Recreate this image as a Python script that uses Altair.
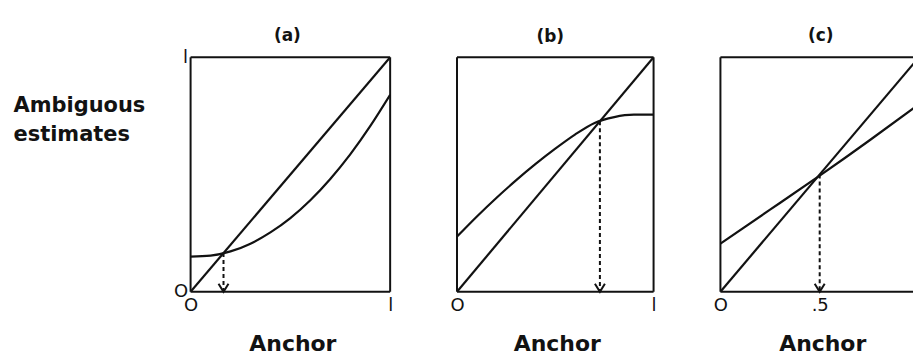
import altair as alt
import pandas as pd

INK = "#121212"

# Reference diagonal: estimate equals anchor
diag_x = [0.0, 1.0]
diag_y = [0.0, 1.0]

# (a) estimate curve, convex, crossing the diagonal low
a_x = [0.0, 0.1, 0.2, 0.3, 0.4, 0.5, 0.6, 0.7, 0.8, 0.9, 1.0]
a_y = [0.15, 0.154, 0.172, 0.205, 0.253, 0.314, 0.39, 0.481, 0.586, 0.706, 0.84]
a_cross = 0.165

# (b) estimate curve, concave, crossing the diagonal high
b_x = [0.0, 0.1, 0.2, 0.3, 0.4, 0.5, 0.6, 0.7, 0.8, 0.9, 1.0]
b_y = [0.235, 0.32, 0.40, 0.475, 0.545, 0.61, 0.67, 0.72, 0.745, 0.755, 0.755]
b_cross = 0.727

# (c) estimate line, crossing the diagonal at the midpoint
c_x = [0.0, 0.25, 0.5, 0.75, 1.0]
c_y = [0.205, 0.35, 0.495, 0.645, 0.80]
c_cross = 0.5

panel_titles = ["(a)", "(b)", "(c)"]
x_title = "Anchor"
y_title = ["Ambiguous", "estimates"]

tick_values = [0, 0.5, 1]
tick_texts = ["O", ".5", "l"]
ab_ticks = [0, 1]
c_ticks = [0, 0.5]


def label_expr():
    expr = "''"
    for v, t in zip(reversed(tick_values), reversed(tick_texts)):
        expr = f"datum.value == {v} ? '{t}' : ({expr})"
    return expr


def panel(title, cx, cy, cross, ticks, xmax, width, show_y,
          title_dx, title_offset, x_title_x, interp):
    curves = pd.DataFrame({
        "x": diag_x + cx,
        "y": diag_y + cy,
        "series": ["diag"] * len(diag_x) + ["curve"] * len(cx),
    })
    # box around the plot; the right side only when it is inside the view
    fx, fy, fx2, fy2 = [0, 0, 0], [0, 1, 0], [xmax, xmax, 0], [0, 1, 1]
    if xmax >= 1:
        fx.append(1); fy.append(0); fx2.append(1); fy2.append(1)
    frame = pd.DataFrame({"x": fx, "y": fy, "x2": fx2, "y2": fy2})
    drop = pd.DataFrame({"x": [cross], "y": [cross], "y2": [0.0]})
    head = pd.DataFrame({"x": [cross], "y": [0.0]})

    x_axis = alt.Axis(values=ticks, labelExpr=label_expr(), title=x_title,
                      labelFlush=False, labelPadding=5,
                      titleBaseline="alphabetic", titleY=59, titleX=x_title_x)
    xs = alt.Scale(domain=[0, xmax], nice=False, zero=False)
    ys = alt.Scale(domain=[0, 1], nice=False)
    if show_y:
        y_axis = alt.Axis(values=[0, 1], labelExpr=label_expr(), title=y_title,
                          titleAngle=0, titleAlign="left", titleBaseline="top",
                          titleX=-178, titleY=37, titleLineHeight=29,
                          titleFontSize=21, labelPadding=3)
    else:
        y_axis = None

    X = alt.X("x:Q", scale=xs, axis=x_axis)
    Y = alt.Y("y:Q", scale=ys, axis=y_axis)

    box = alt.Chart(frame).mark_rule(color=INK, strokeWidth=2).encode(
        x=X, y=Y, x2="x2:Q", y2="y2:Q")
    lines = alt.Chart(curves).mark_line(
        color=INK, strokeWidth=2.2, interpolate=interp, clip=True
    ).encode(x=X, y=Y, detail="series:N")
    dashed = alt.Chart(drop).mark_rule(
        color=INK, strokeWidth=2, strokeDash=[4, 3]
    ).encode(x=X, y=Y, y2="y2:Q")
    arrow = alt.Chart(head).mark_point(
        shape="M-1,-1.6L0,0L1,-1.6", size=100, filled=False,
        strokeWidth=2, opacity=1, color=INK
    ).encode(x=X, y=Y)

    return alt.layer(box, lines, dashed, arrow).properties(
        width=width, height=235,
        title=alt.TitleParams(title, frame="group", anchor="middle",
                              dx=title_dx, offset=title_offset),
    )


pa = panel(panel_titles[0], a_x, a_y, a_cross, ab_ticks, 1.0, 200, True,
           -3, 3, 102, "natural")
pb = panel(panel_titles[1], b_x, b_y, b_cross, ab_ticks, 1.0, 197, False,
           -5, 10, 100, "monotone")
pc = panel(panel_titles[2], c_x, c_y, c_cross, c_ticks, 0.97, 193, False,
           4, 11, 102, "natural")

chart = alt.hconcat(pa, pb, pc, spacing=67, bounds="flush").properties(
    padding={"left": 12, "top": 26, "right": 0, "bottom": 0}
).configure_view(
    stroke="transparent"
).configure_axis(
    labelFont="DejaVu Sans", labelFontSize=18, labelColor=INK,
    titleFont="DejaVu Sans", titleFontSize=22, titleFontWeight="bold",
    titleColor=INK, domain=False, ticks=False, tickSize=0, grid=False,
).configure_title(
    font="DejaVu Sans", fontSize=17, fontWeight="bold", color=INK,
)

chart.save("out.html", embed_options={"renderer": "svg", "actions": False})
